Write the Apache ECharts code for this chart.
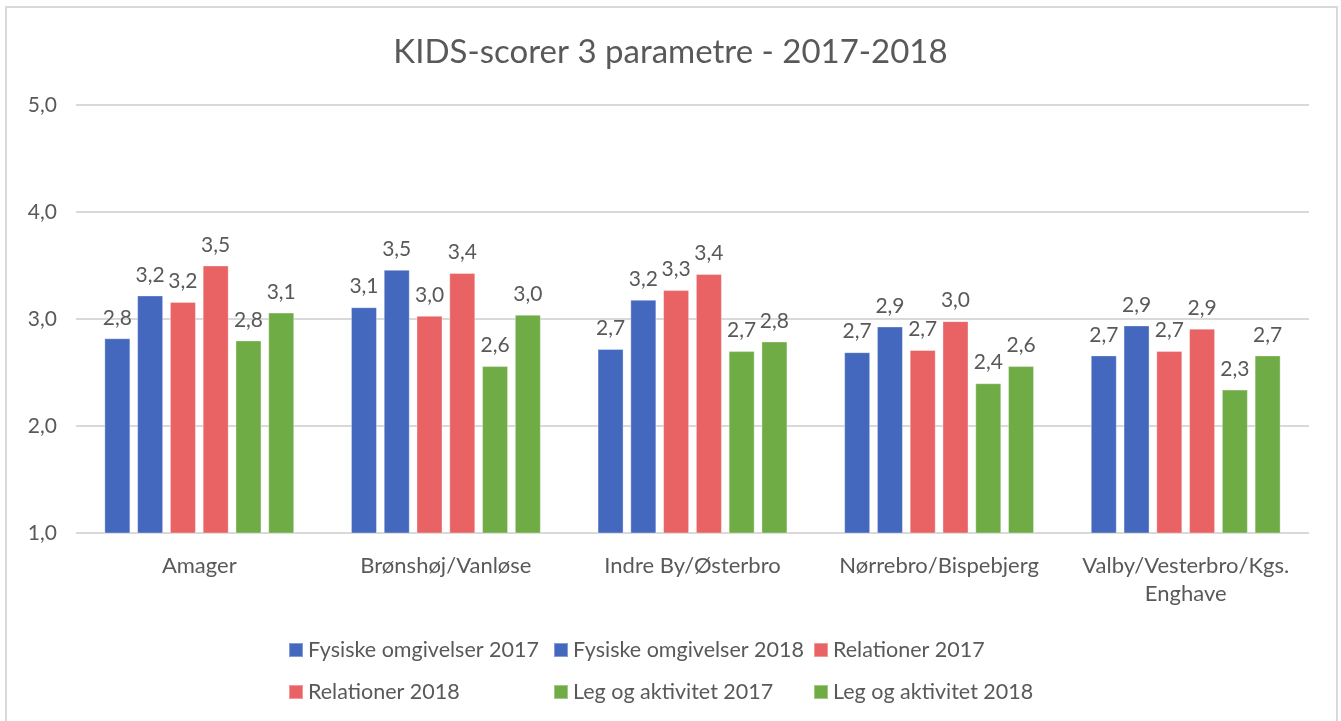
<!DOCTYPE html>
<html>
<head>
<meta charset="utf-8">
<script src="https://cdn.jsdelivr.net/npm/echarts@6/dist/echarts.min.js"></script>
<style>
html,body{margin:0;padding:0;background:#fff;}
#frame{position:absolute;left:5px;top:6px;width:1333px;height:720px;border:2px solid #D9D9D9;box-sizing:border-box;border-bottom:none;}
#chart{position:absolute;left:0;top:0;width:1341px;height:721px;}
</style>
</head>
<body>
<div id="frame"></div>
<div id="chart"></div>
<script>
const categories = ["Amager", "Brønshøj/Vanløse", "Indre By/Østerbro", "Nørrebro/Bispebjerg", "Valby/Vesterbro/Kgs.\nEnghave"];
const seriesNames = ["Fysiske omgivelser 2017", "Fysiske omgivelser 2018", "Relationer 2017", "Relationer 2018", "Leg og aktivitet 2017", "Leg og aktivitet 2018"];
const fysiske2017 = [2.82, 3.11, 2.72, 2.69, 2.66];
const fysiske2018 = [3.22, 3.46, 3.18, 2.93, 2.94];
const relationer2017 = [3.16, 3.03, 3.27, 2.71, 2.70];
const relationer2018 = [3.50, 3.43, 3.42, 2.98, 2.91];
const leg2017 = [2.80, 2.56, 2.70, 2.40, 2.34];
const leg2018 = [3.06, 3.04, 2.79, 2.56, 2.66];
const yTicks = [1, 2, 3, 4, 5];

const colors = ["#4468BE", "#4468BE", "#E96264", "#E96264", "#70AC46", "#70AC46"];
const values = [fysiske2017, fysiske2018, relationer2017, relationer2018, leg2017, leg2018];
const FONT = "Lato";
const TXT = "#595959";
const fmt = v => v.toFixed(1).replace('.', ',');

const chart = echarts.init(document.getElementById('chart'), null, {renderer: 'canvas'});

const legendPos = [
  {left: 288, top: 639}, {left: 553, top: 639}, {left: 813, top: 639},
  {left: 288, top: 681}, {left: 553, top: 681}, {left: 813, top: 681}
];

const option = {
  animation: false,
  title: {
    text: "KIDS-scorer 3 parametre - 2017-2018",
    left: 'center',
    top: 31,
    textStyle: {fontFamily: FONT, fontSize: 33, fontWeight: 'normal', color: TXT}
  },
  legend: seriesNames.map((n, i) => ({
    data: [n],
    left: legendPos[i].left,
    top: legendPos[i].top,
    padding: 0,
    icon: 'rect',
    itemWidth: 14,
    itemHeight: 14,
    itemGap: 5,
    textStyle: {fontFamily: FONT, fontSize: 21.5, color: TXT, padding: [0, 0, 0, 0]}
  })),
  grid: {left: 76, right: 32, top: 105, bottom: 188, containLabel: false},
  xAxis: {
    type: 'category',
    data: categories,
    axisLine: {show: false},
    axisTick: {show: false},
    axisLabel: {fontFamily: FONT, fontSize: 22, color: TXT, margin: 19, lineHeight: 28, interval: 0}
  },
  yAxis: {
    type: 'value',
    min: yTicks[0],
    max: yTicks[yTicks.length - 1],
    interval: 1,
    axisLine: {show: false},
    axisTick: {show: false},
    axisLabel: {fontFamily: FONT, fontSize: 21, color: TXT, margin: 19, formatter: v => fmt(v)},
    splitLine: {lineStyle: {color: '#D9D9D9', width: 2}}
  },
  series: seriesNames.map((n, i) => ({
    name: n,
    type: 'bar',
    data: values[i],
    barGap: '26%',
    barCategoryGap: '23%',
    itemStyle: {color: colors[i], borderColor: 'rgba(255,255,255,0.35)', borderWidth: 1},
    label: {
      show: true,
      position: 'top',
      distance: 10,
      fontFamily: FONT,
      fontSize: 21,
      color: TXT,
      formatter: p => fmt(p.value)
    }
  }))
};
chart.setOption(option);
</script>
</body>
</html>
